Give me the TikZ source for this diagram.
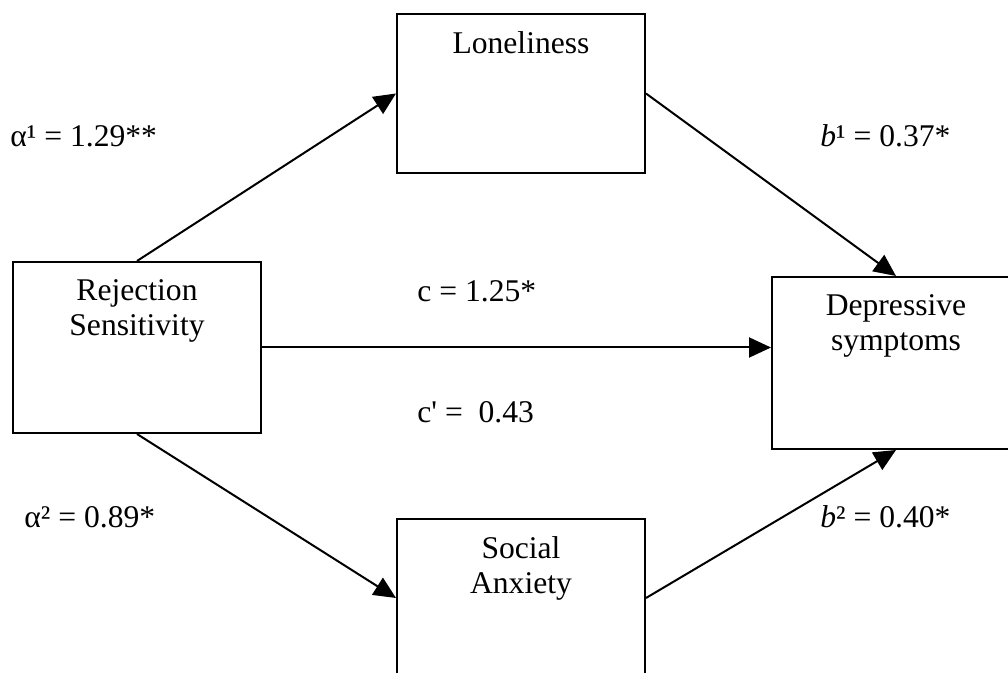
\documentclass[tikz,border=0pt]{standalone}
\usepackage{fontspec}
\newfontfamily\figfont{Liberation Serif}
\usetikzlibrary{arrows.meta}
\usetikzlibrary{positioning}

\tikzset{
  varbox/.style={draw, line width=1pt, minimum width=124pt, inner sep=0pt},
  vartext/.style={inner sep=0pt, align=center, anchor=north},
  effect/.style={line width=1pt, -{Triangle[length=11pt,width=10pt]}},
  coef/.style={inner sep=0pt, anchor=base west},
}

\begin{document}
\begin{tikzpicture}[x=0.5pt,y=-0.5pt,font=\figfont\fontsize{15.8}{17.5}\selectfont]
		\useasboundingbox (0,0) rectangle (1008,673);
		\clip (0,0) rectangle (1008,673);
		% the four variables
		\node[varbox, minimum height=79.5pt] (lon) at (521,93.5) {};
		\node[varbox, minimum height=85.5pt] (rej) at (137,347.5) {};
		\node[varbox, minimum height=86pt] (dep) at (896,363) {};
		\node[varbox, minimum height=79pt] (soc) at (521,598) {};
		\node[vartext, below=9.25pt of lon.north] (lontext) {Loneliness};
		\node[vartext, below=9.25pt of rej.north] (rejtext) {Rejection\\Sensitivity};
		\node[vartext, below=9.25pt of dep.north] (deptext) {Depressive\\symptoms};
		\node[vartext, below=9.25pt of soc.north] (soctext) {Social\\Anxiety};
		% paths
		\draw[effect] (rej.north) -- (lon.west);
		\draw[effect] (lon.east) -- (dep.north);
		\draw[effect] (rej.east) -- (rej.east -| dep.west);
		\draw[effect] (rej.south) -- (soc.west);
		\draw[effect] (soc.east) -- (dep.south);
		% coefficients
		\node[coef] (a1) at (10,147) {α¹ = 1.29**};
		\node[coef] (b1) at (820,147) {\textit{b}¹ = 0.37*};
		\node[coef] (c) at (417,302) {c = 1.25*};
		\node[coef] (cp) at (417,423) {c' = \ 0.43};
		\node[coef] (a2) at (24,528) {α² = 0.89*};
		\node[coef] (b2) at (820,528) {\textit{b}² = 0.40*};
		\end{tikzpicture}
\end{document}
